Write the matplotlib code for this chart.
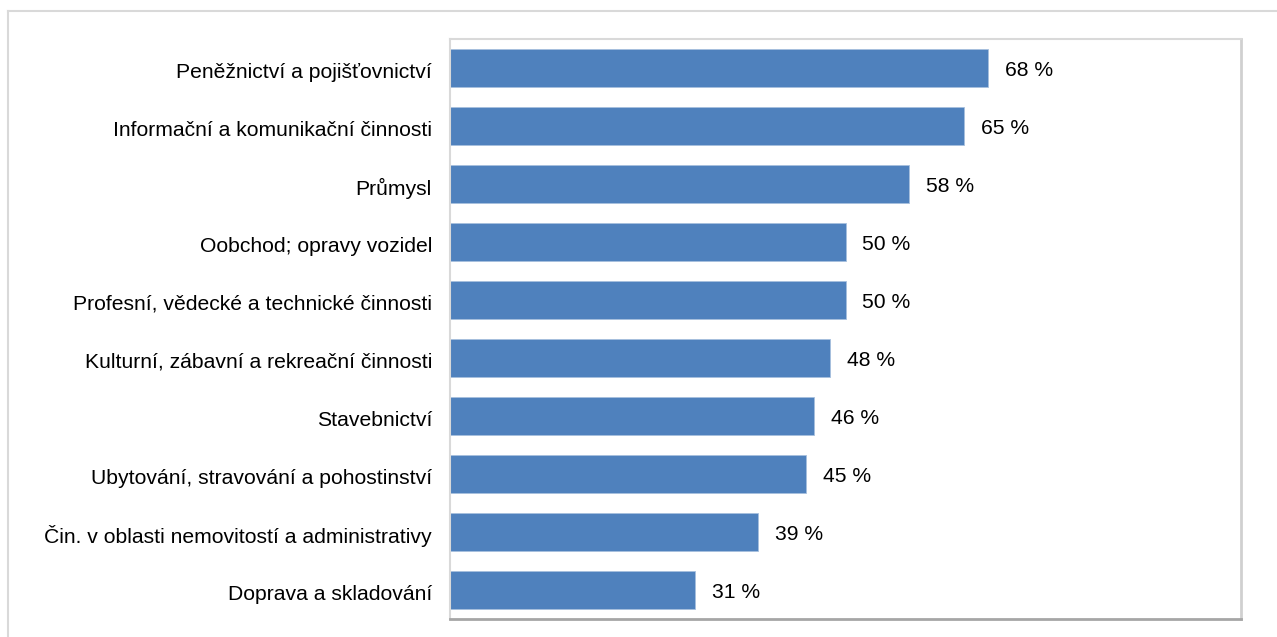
import matplotlib
matplotlib.use("Agg")
import matplotlib.pyplot as plt
import matplotlib.transforms as mtransforms
from matplotlib.lines import Line2D

plt.rcParams['font.family'] = ['Liberation Sans', 'DejaVu Sans']

categories = [
    "Peněžnictví a pojišťovnictví",
    "Informační a komunikační činnosti",
    "Průmysl",
    "Oobchod; opravy vozidel",
    "Profesní, vědecké a technické činnosti",
    "Kulturní, zábavní a rekreační činnosti",
    "Stavebnictví",
    "Ubytování, stravování a pohostinství",
    "Čin. v oblasti nemovitostí a administrativy",
    "Doprava a skladování",
]
values = [68, 65, 58, 50, 50, 48, 46, 45, 39, 31]
value_labels = ["68 %", "65 %", "58 %", "50 %", "50 %", "48 %", "46 %", "45 %", "39 %", "31 %"]

W, H = 1277, 637
fig = plt.figure(figsize=(W / 100, H / 100), dpi=100)
fig.patch.set_facecolor("white")

# outer chart-area frame (left and top edges visible)
fig.add_artist(Line2D([8 / W, 8 / W], [0, 1 - 11 / H], transform=fig.transFigure,
                      color="#d9d9d9", lw=1.5))
fig.add_artist(Line2D([8 / W, 1], [1 - 11 / H, 1 - 11 / H], transform=fig.transFigure,
                      color="#d9d9d9", lw=1.5))

left, right, top, bottom = 450, 1241, 39, 619
ax = fig.add_axes([left / W, 1 - bottom / H, (right - left) / W, (bottom - top) / H])

y = list(range(len(categories)))
ax.barh(y, values, height=0.64, color="#4f81bd", edgecolor="#a7c0de", linewidth=0.6)
ax.set_ylim(len(categories) - 0.5, -0.5)
ax.set_xlim(0, 100)

fs = 15.2
ax.set_yticks(y)
ax.set_yticklabels(categories, fontsize=fs, color="#000000")
ax.tick_params(axis="y", length=0, pad=13)
ax.set_xticks([])
shift = mtransforms.ScaledTranslation(0, -2 / 100, fig.dpi_scale_trans)
for lab in ax.get_yticklabels():
    lab.set_transform(lab.get_transform() + shift)

for yi, v, lab in zip(y, values, value_labels):
    ax.annotate(lab, (v, yi), xytext=(17, -3), textcoords="offset pixels",
                va="center", ha="left", fontsize=fs, color="#000000")

for name in ("left", "top"):
    ax.spines[name].set_color("#d9d9d9")
    ax.spines[name].set_linewidth(1.5)
ax.spines["right"].set_color("#d0d0d0")
ax.spines["right"].set_linewidth(2)
ax.spines["bottom"].set_color("#a6a6a6")
ax.spines["bottom"].set_linewidth(2)

fig.savefig("out.png", dpi=100, facecolor="white")
